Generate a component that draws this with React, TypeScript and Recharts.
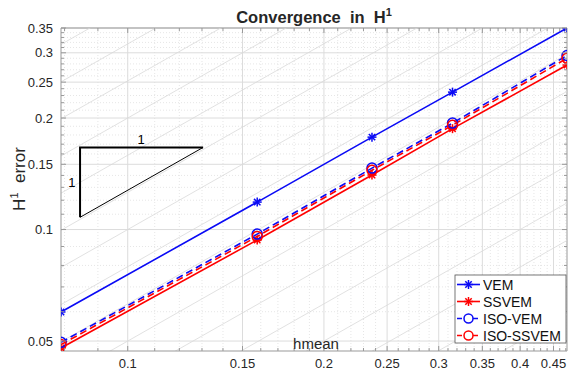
import React from "react";
import {
  LineChart,
  Line,
  XAxis,
  YAxis,
  CartesianGrid,
  ReferenceLine,
  ReferenceDot,
} from "recharts";

// mesh size (hmean) and the four error curves
const H = [0.079, 0.158, 0.237, 0.315, 0.472];
const VEM = [0.0599, 0.1186, 0.1776, 0.2349, 0.35];
const SSVEM = [0.0479, 0.0937, 0.1403, 0.1872, 0.278];
const ISO_VEM = [0.0496, 0.0972, 0.1465, 0.1938, 0.295];
const ISO_SSVEM = [0.0489, 0.0958, 0.1445, 0.1912, 0.29];

const X_DOMAIN = [0.079, 0.472];
const Y_DOMAIN = [0.047, 0.35];

const X_MAJOR = [0.1, 0.15, 0.2, 0.25, 0.3, 0.35, 0.4, 0.45];
const X_MINOR = [
  0.08, 0.09, 0.11, 0.12, 0.13, 0.14, 0.16, 0.17, 0.18, 0.19, 0.21, 0.22,
  0.23, 0.24, 0.26, 0.27, 0.28, 0.29, 0.31, 0.32, 0.33, 0.34, 0.36, 0.37,
  0.38, 0.39, 0.41, 0.42, 0.43, 0.44, 0.46, 0.47,
];
const Y_MAJOR = [0.05, 0.1, 0.15, 0.2, 0.25, 0.3, 0.35];
const Y_MINOR = [
  0.06, 0.07, 0.08, 0.09, 0.11, 0.12, 0.13, 0.14, 0.16, 0.17, 0.18, 0.19,
  0.21, 0.22, 0.23, 0.24, 0.26, 0.27, 0.28, 0.29, 0.31, 0.32, 0.33, 0.34,
];

// constants C of the background reference lines err = C * h
const GUIDES = [
  0.125, 0.157, 0.198, 0.25, 0.315, 0.397, 0.5, 0.63, 0.794, 1, 1.26, 1.587,
  2, 2.52, 3.17, 4,
];

// slope triangle corners
const TRI_H = [0.0845, 0.1305];
const TRI_E = [0.1079, 0.1666];

const BLUE = "#0a0af5";
const RED = "#ff0000";
const AXIS = "#999999";
const TXT = "#262626";
const FONT = '"Liberation Sans", Arial, Helvetica, sans-serif';

const TOP = 28;
const RIGHT = 567;

const SERIES = [
  { name: "VEM", values: VEM, color: BLUE, dashed: false, marker: "star" },
  { name: "SSVEM", values: SSVEM, color: RED, dashed: false, marker: "star" },
  { name: "ISO-VEM", values: ISO_VEM, color: BLUE, dashed: true, marker: "circle" },
  { name: "ISO-SSVEM", values: ISO_SSVEM, color: RED, dashed: true, marker: "circle" },
];

const pts = (ys: number[]) => H.map((h, i) => ({ x: h, y: ys[i] }));

function starShape(cx: number, cy: number, color: string, key?: any) {
  const r = 4.5;
  const d = 3.2;
  return (
    <g key={key} stroke={color} strokeWidth={1.5}>
      <line x1={cx - r} y1={cy} x2={cx + r} y2={cy} />
      <line x1={cx} y1={cy - r} x2={cx} y2={cy + r} />
      <line x1={cx - d} y1={cy - d} x2={cx + d} y2={cy + d} />
      <line x1={cx - d} y1={cy + d} x2={cx + d} y2={cy - d} />
    </g>
  );
}

const starDot = (color: string) => (p: any) => {
  if (p.cx == null || p.cy == null) return <g key={p.index} />;
  return starShape(p.cx, p.cy, color, p.index);
};

function XTick(props: any) {
  const { x, y, payload } = props;
  const v = payload.value;
  const major = X_MAJOR.includes(v);
  const len = major ? 5 : 3;
  return (
    <g>
      <line x1={x} x2={x} y1={y} y2={y - len} stroke={AXIS} />
      <line x1={x} x2={x} y1={TOP} y2={TOP + len} stroke={AXIS} />
      {major && (
        <text x={x} y={y + 17} textAnchor="middle" fontSize={13} fill={TXT}>
          {String(v)}
        </text>
      )}
    </g>
  );
}

function YTick(props: any) {
  const { x, y, payload } = props;
  const v = payload.value;
  const major = Y_MAJOR.includes(v);
  const len = major ? 5 : 3;
  return (
    <g>
      <line x1={x} x2={x + len} y1={y} y2={y} stroke={AXIS} />
      <line x1={RIGHT} x2={RIGHT - len} y1={y} y2={y} stroke={AXIS} />
      {major && (
        <text x={x - 8} y={y + 4.5} textAnchor="end" fontSize={13} fill={TXT}>
          {String(v)}
        </text>
      )}
    </g>
  );
}

function Overlay() {
  const rowY = [284.5, 301.5, 318.5, 335.5];
  return (
    <svg
      width={568}
      height={375}
      style={{ position: "absolute", left: 0, top: 0, pointerEvents: "none", fontFamily: FONT }}
    >
      <text
        x={314}
        y={23}
        textAnchor="middle"
        fontSize={16.5}
        fontWeight="bold"
        fill={TXT}
        style={{ whiteSpace: "pre" }}
      >
        {"Convergence  in  H"}
        <tspan fontSize={11} dy={-7}>1</tspan>
      </text>
      <text
        x={25}
        y={179}
        textAnchor="middle"
        fontSize={17}
        fill={TXT}
        transform="rotate(-90, 25, 179)"
        style={{ whiteSpace: "pre" }}
      >
        {"H"}
        <tspan fontSize={11} dy={-7}>1</tspan>
        <tspan dy={7}>{"  error"}</tspan>
      </text>
      <text x={316} y={349} textAnchor="middle" fontSize={15} fill={TXT}>
        hmean
      </text>
      <rect x={455} y={275} width={111} height={68} fill="#fff" stroke="#555" strokeWidth={0.8} />
      {SERIES.map((s, i) => (
        <g key={s.name}>
          <line
            x1={457}
            x2={480}
            y1={rowY[i]}
            y2={rowY[i]}
            stroke={s.color}
            strokeWidth={1.6}
            strokeDasharray={s.dashed ? "5 3" : undefined}
          />
          {s.marker === "star" ? (
            starShape(468.5, rowY[i], s.color)
          ) : (
            <circle cx={468.5} cy={rowY[i]} r={4.5} fill="#fff" stroke={s.color} strokeWidth={1.5} />
          )}
          <text x={483} y={rowY[i] + 5} fontSize={14} fill="#111">
            {s.name}
          </text>
        </g>
      ))}
    </svg>
  );
}

export default function App() {
  return (
    <div
      style={{
        position: "fixed",
        left: 0,
        top: 0,
        width: 568,
        height: 375,
        overflow: "hidden",
        background: "#fff",
        fontFamily: FONT,
      }}
    >
      <LineChart width={568} height={375} margin={{ top: TOP, right: 1, bottom: 0, left: 0 }}>
        <CartesianGrid verticalValues={X_MINOR} horizontalValues={Y_MINOR} stroke="#e6e6e6" strokeDasharray="1 2" />
        <CartesianGrid verticalValues={X_MAJOR} horizontalValues={Y_MAJOR} stroke="#dcdcdc" />
        <XAxis
          type="number"
          dataKey="x"
          scale="log"
          domain={X_DOMAIN}
          allowDataOverflow
          ticks={[...X_MAJOR, ...X_MINOR].sort((a, b) => a - b)}
          interval={0}
          tick={(p: any) => <XTick {...p} />}
          tickLine={false}
          tickSize={0}
          tickMargin={0}
          height={24}
          axisLine={{ stroke: AXIS }}
        />
        <YAxis
          type="number"
          dataKey="y"
          scale="log"
          domain={Y_DOMAIN}
          allowDataOverflow
          ticks={[...Y_MAJOR, ...Y_MINOR].sort((a, b) => a - b)}
          interval={0}
          tick={(p: any) => <YTick {...p} />}
          tickLine={false}
          tickSize={0}
          tickMargin={0}
          width={61}
          axisLine={{ stroke: AXIS }}
        />
        <ReferenceLine y={Y_DOMAIN[1]} stroke={AXIS} />
        <ReferenceLine x={X_DOMAIN[1]} stroke={AXIS} />
        {GUIDES.map((c) => (
          <Line
            key={"g" + c}
            data={[
              { x: X_DOMAIN[0], y: c * X_DOMAIN[0] },
              { x: X_DOMAIN[1], y: c * X_DOMAIN[1] },
            ]}
            dataKey="y"
            stroke="#d9d9d9"
            strokeWidth={0.8}
            dot={false}
            activeDot={false}
            isAnimationActive={false}
          />
        ))}
        <Line
          data={[
            { x: TRI_H[1], y: TRI_E[1] },
            { x: TRI_H[0], y: TRI_E[1] },
            { x: TRI_H[0], y: TRI_E[0] },
          ]}
          dataKey="y"
          stroke="#000"
          strokeWidth={2}
          dot={false}
          activeDot={false}
          isAnimationActive={false}
        />
        <Line
          data={[
            { x: TRI_H[0], y: TRI_E[0] },
            { x: TRI_H[1], y: TRI_E[1] },
          ]}
          dataKey="y"
          stroke="#000"
          strokeWidth={1}
          dot={false}
          activeDot={false}
          isAnimationActive={false}
        />
        <ReferenceDot
          x={0.1048}
          y={0.1743}
          r={0}
          shape={(p: any) => (
            <text x={p.cx} y={p.cy + 4} textAnchor="middle" fontSize={13} fill="#000">
              1
            </text>
          )}
        />
        <ReferenceDot
          x={0.0821}
          y={0.1333}
          r={0}
          shape={(p: any) => (
            <text x={p.cx} y={p.cy + 4} textAnchor="middle" fontSize={13} fill="#000">
              1
            </text>
          )}
        />
        {SERIES.map((s) => (
          <Line
            key={s.name}
            name={s.name}
            data={pts(s.values)}
            dataKey="y"
            stroke={s.color}
            strokeWidth={1.6}
            strokeDasharray={s.dashed ? "7 4" : undefined}
            dot={
              s.marker === "star"
                ? starDot(s.color)
                : { r: 5, fill: "none", stroke: s.color, strokeWidth: 1.5, strokeDasharray: "" }
            }
            activeDot={false}
            isAnimationActive={false}
          />
        ))}
      </LineChart>
      <Overlay />
    </div>
  );
}
